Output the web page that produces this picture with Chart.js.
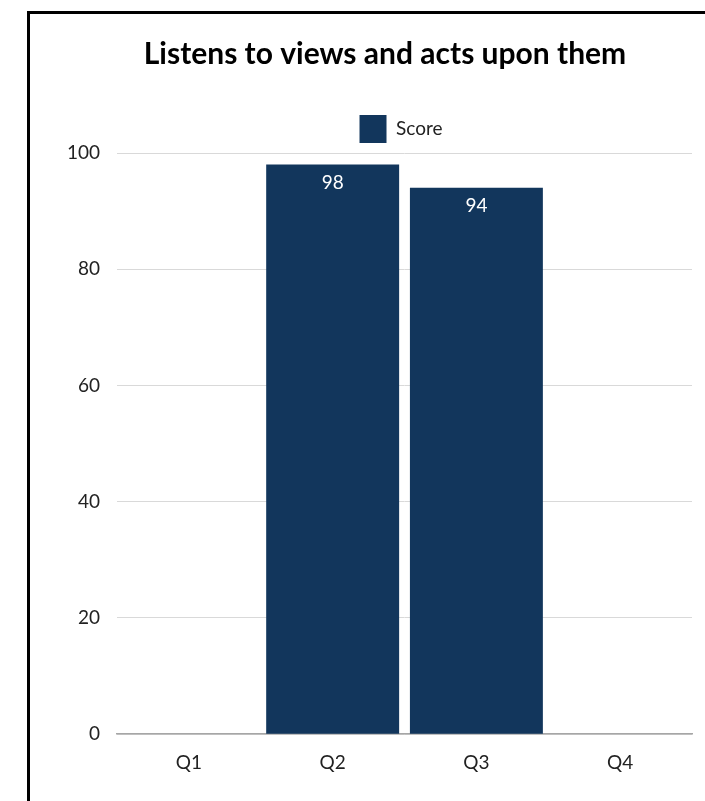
<!DOCTYPE html>
<html lang="en">
<head>
  <meta charset="UTF-8" />
  <title>Listens to views and acts upon them</title>
  <script src="https://cdn.jsdelivr.net/npm/chart.js"></script>
  <style>
    html, body {
      margin: 0;
      padding: 0;
      background: #fff;
      overflow: hidden;
      width: 705px;
      height: 801px;
    }
    .frame {
      position: absolute;
      left: 27px;
      top: 11px;
      width: 760px;
      height: 820px;
      border-top: 3px solid #000;
      border-left: 3px solid #000;
    }
    #scoreChart {
      position: absolute;
      left: 3px;
      top: 3px;
    }
  </style>
</head>
<body>
  <div class="frame">
    <canvas id="scoreChart" width="700" height="787"></canvas>
  </div>

<script>
  const categories = ['Q1', 'Q2', 'Q3', 'Q4'];
  const scores = [null, 98, 94, null];
  const yMin = 0;
  const yMax = 100;
  const yStep = 20;

  const barColor = '#12365c';
  const fontFamily = 'Lato, "Open Sans", sans-serif';

  // nudges title/legend sideways, the original centres them a bit right of the canvas middle
  const shiftBoxes = {
    id: 'shiftBoxes',
    afterLayout(chart) {
      chart.titleBlock.left += 14;
      chart.titleBlock.right += 14;
      chart.legend.left += 30;
      chart.legend.right += 30;
    }
  };

  // value written in white just inside the top of each bar
  const barValues = {
    id: 'barValues',
    afterDatasetsDraw(chart) {
      const c = chart.ctx;
      c.save();
      c.fillStyle = '#fff';
      c.font = '19px ' + fontFamily;
      c.textAlign = 'center';
      c.textBaseline = 'middle';
      chart.getDatasetMeta(0).data.forEach((bar, i) => {
        const v = scores[i];
        if (v == null) return;
        c.fillText(v, bar.x, bar.y + 18);
      });
      c.restore();
    }
  };

  const ctx = document.getElementById('scoreChart').getContext('2d');
  new Chart(ctx, {
    type: 'bar',
    data: {
      labels: categories,
      datasets: [{
        label: 'Score',
        data: scores,
        backgroundColor: barColor,
        borderWidth: 0,
        categoryPercentage: 1,
        barPercentage: 0.925
      }]
    },
    plugins: [shiftBoxes, barValues],
    options: {
      responsive: false,
      animation: false,
      layout: {
        padding: { top: 0, left: 17, right: 41, bottom: 13 }
      },
      plugins: {
        title: {
          display: true,
          text: 'Listens to views and acts upon them',
          color: '#000',
          font: { family: fontFamily, size: 30, weight: 'bold' },
          padding: { top: 19, bottom: 23 }
        },
        legend: {
          display: true,
          labels: {
            boxWidth: 27,
            boxHeight: 28,
            padding: 20,
            color: '#222',
            font: { family: fontFamily, size: 19 }
          }
        },
        tooltip: { enabled: false }
      },
      scales: {
        x: {
          grid: { display: false, drawTicks: false },
          border: { display: true, color: '#a6a6a6', width: 1.5 },
          ticks: {
            color: '#222',
            padding: 17,
            font: { family: fontFamily, size: 19 }
          }
        },
        y: {
          min: yMin,
          max: yMax,
          grid: { color: '#d9d9d9', lineWidth: 1, drawTicks: false },
          border: { display: false },
          ticks: {
            stepSize: yStep,
            color: '#222',
            padding: 17,
            font: { family: fontFamily, size: 19 }
          }
        }
      }
    }
  });
</script>
</body>
</html>
